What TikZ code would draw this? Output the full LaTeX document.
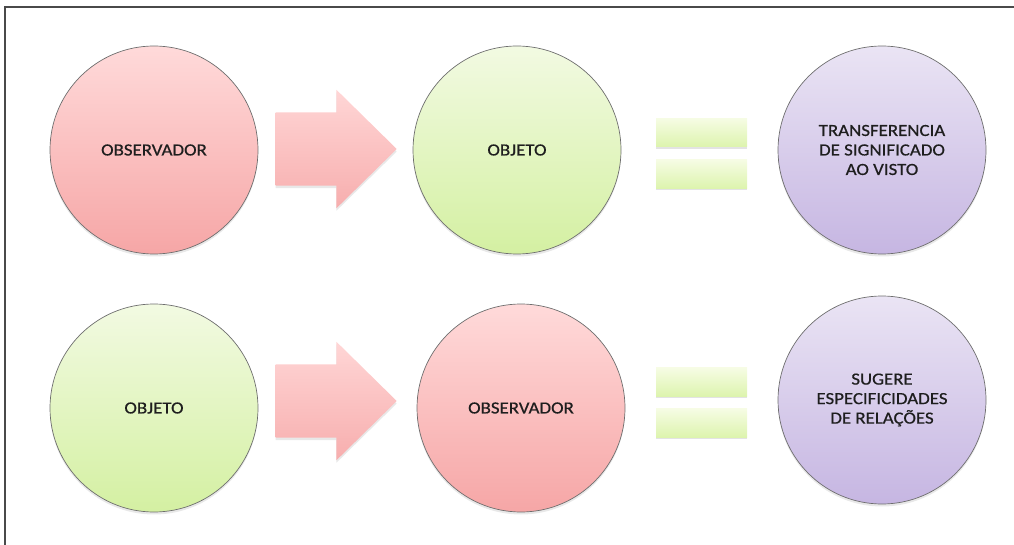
\documentclass[tikz,border=0pt]{standalone}
\usepackage{fontspec}
\newfontfamily\calfont[FakeStretch=1.11,FakeBold=0.6]{Carlito}
\usetikzlibrary{shapes.arrows,shadows}
\definecolor{redtop}{HTML}{FFDADA}
\definecolor{redbot}{HTML}{F6A6A6}
\definecolor{greentop}{HTML}{F2FAE2}
\definecolor{greenbot}{HTML}{D4F0A2}
\definecolor{purptop}{HTML}{EAE4F4}
\definecolor{purpbot}{HTML}{C6B6E2}
\definecolor{arrtop}{HTML}{FFD6D6}
\definecolor{arrbot}{HTML}{F7AEAE}
\definecolor{bartop}{HTML}{F6FCE4}
\definecolor{barbot}{HTML}{DDF4AE}
\definecolor{ringcol}{HTML}{6E6E6E}
\definecolor{framecol}{HTML}{4A4A4A}
\definecolor{txtcol}{HTML}{1E1E1E}
\tikzset{
  softshadow/.style={drop shadow={opacity=0.18,shadow xshift=0pt,shadow yshift=-2.5pt}},
  ball/.style={circle,minimum size=208pt,inner sep=0pt,draw=ringcol,line width=0.7pt,
    softshadow,font=\calfont\fontsize{17}{19.5}\selectfont,text=txtcol,align=center},
  redball/.style={ball,top color=redtop,bottom color=redbot},
  greenball/.style={ball,top color=greentop,bottom color=greenbot},
  purpball/.style={ball,top color=purptop,bottom color=purpbot},
  bigarrow/.style={single arrow,minimum height=121pt,anchor=tip,
    single arrow head extend=22.5pt,single arrow tip angle=89,inner sep=0pt,
    draw=none,top color=arrtop,bottom color=arrbot,softshadow},
  eqbar/.style={rectangle,minimum width=91pt,minimum height=28.5pt,inner sep=0pt,
    draw=none,top color=bartop,bottom color=barbot,
    drop shadow={opacity=0.22,shadow xshift=0pt,shadow yshift=-2pt}},
  framestyle/.style={draw=framecol,line width=2pt}
}
\begin{document}
\begin{tikzpicture}[x=1pt,y=-1pt]
\useasboundingbox (0,0) rectangle (1014,545);
\coordinate (fa) at (4.5,545);
\coordinate (fb) at (4.5,7.5);
\coordinate (fc) at (1014,7.5);
\draw[framestyle] (fa) -- (fb) -- (fc);
% row 1
\node[redball] (obs1) at (154,150) {OBSERVADOR};
\node[bigarrow] (arr1) at (397,149) {\rule{0pt}{73pt}};
\node[greenball] (obj1) at (517,150) {OBJETO};
\node[eqbar] (eq1a) at (701.5,132.5) {};
\node[eqbar] (eq1b) at (701.5,174) {};
\node[purpball] (res1) at (882,150) {TRANSFERENCIA\\DE SIGNIFICADO\\AO VISTO};
% row 2
\node[greenball] (obj2) at (154,408) {OBJETO};
\node[bigarrow] (arr2) at (397,401) {\rule{0pt}{73pt}};
\node[redball] (obs2) at (521,408) {OBSERVADOR};
\node[eqbar] (eq2a) at (701.5,382) {};
\node[eqbar] (eq2b) at (701.5,423) {};
\node[purpball] (res2) at (882,400) {SUGERE\\ESPECIFICIDADES\\DE RELAÇÕES};
\end{tikzpicture}
\end{document}
